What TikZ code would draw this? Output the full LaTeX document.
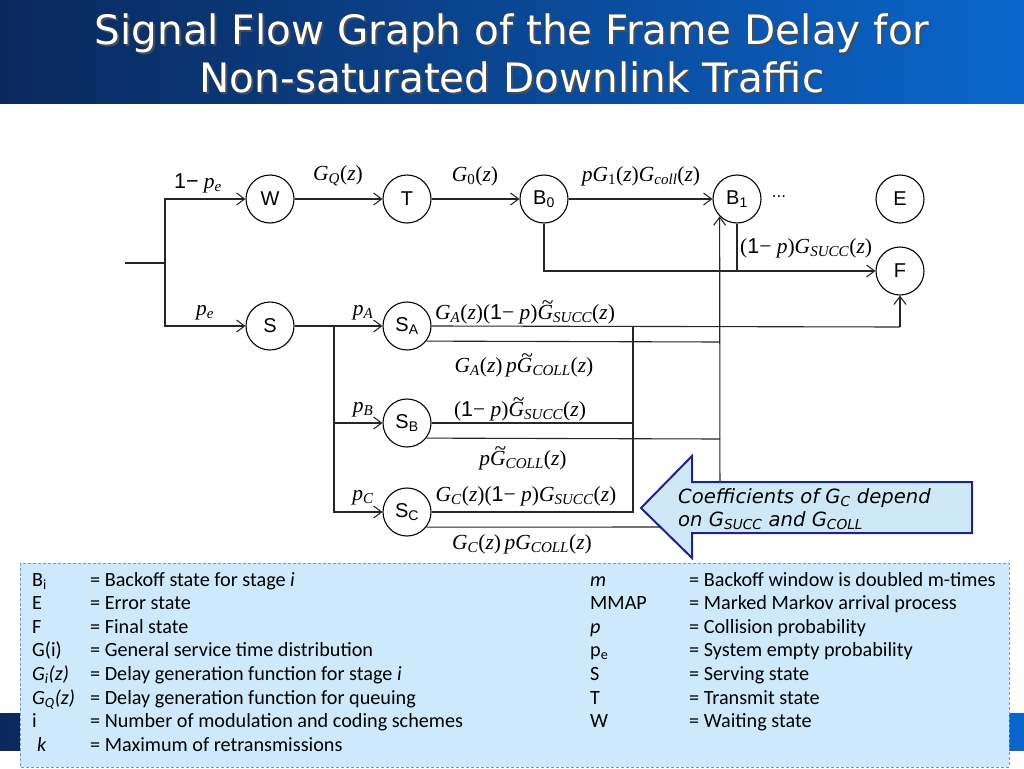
\documentclass[tikz,border=0pt]{standalone}
\usepackage{fontspec}
\setmainfont{Liberation Serif}
\newfontfamily\ars{Liberation Sans}
\newfontfamily\tms{Liberation Serif}
\newfontfamily\ttlfont{DejaVu Sans}
\newfontfamily\legfont{Carlito}
\usetikzlibrary{arrows.meta}
\newcommand\xmi[1]{\textit{#1}}
\newcommand\xsb[1]{\textsubscript{\textit{#1}}}
\newcommand\xone{{\ars 1}}
\newcommand\xtG{\makebox[0pt][l]{\kern0.2em\raisebox{0.47em}{\textasciitilde}}\textit{G}}
\definecolor{navy}{RGB}{10,40,92}
\definecolor{brblue}{RGB}{10,102,204}
\definecolor{legfill}{RGB}{205,233,251}
\definecolor{legdash}{RGB}{128,148,196}
\definecolor{callfill}{RGB}{207,232,248}
\definecolor{calldraw}{RGB}{28,36,140}
\tikzset{
  st/.style={circle, draw, line width=1.1pt, minimum size=48pt, inner sep=0pt, font=\fontsize{20}{20}\ars},
  ln/.style={line width=1.1pt, draw=black!85},
  arr/.style={ln, -{Straight Barb[length=8pt,width=12pt,line width=1.1pt]}},
  ml/.style={inner sep=0pt, font=\fontsize{21.5}{24}\tms},
  leg/.style={anchor=base west, inner sep=0pt, font=\legfont\fontsize{20.2}{24}\selectfont},
  ttl/.style={font=\ttlfont\fontsize{40.5}{44}\selectfont, inner sep=0pt},
  ctext/.style={anchor=base west, inner sep=0pt, font=\ttlfont\itshape\fontsize{19.6}{22}\selectfont}
}
\begin{document}
\begin{tikzpicture}[x=1pt,y=-1pt]
\useasboundingbox (0,0) rectangle (1024,768);
% title
\shade[left color=navy, right color=brblue] (0,0) rectangle (1024,103);
\node[ttl, text=black!70] (t1s) at (514,35) {Signal Flow Graph of the Frame Delay for};
\node[ttl, text=white] (t1) at (512,33) {Signal Flow Graph of the Frame Delay for};
\node[ttl, text=black!70] (t2s) at (514,79) {Non-saturated Downlink Traffic};
\node[ttl, text=white] (t2) at (512,77) {Non-saturated Downlink Traffic};
% bottom band
\shade[left color=navy, right color=brblue] (0,713) rectangle (1024,750);
% nodes
\node[st] (W) at (270,199) {W};
\node[st] (T) at (407,199) {T};
\node[st] (B0) at (544,199) {B\textsubscript{0}};
\node[st] (B1) at (737,199) {B\textsubscript{1}};
\node[st] (E) at (900,199) {E};
\node[st] (F) at (900,271) {F};
\node[st] (S) at (270,326) {S};
\node[st] (SA) at (407,326) {S\textsubscript{A}};
\node[st] (SB) at (407,423) {S\textsubscript{B}};
\node[st] (SC) at (407,512) {S\textsubscript{C}};
\node[inner sep=0pt, font=\fontsize{17}{17}\ars] (dots) at (779,197) {...};
% coordinates
\coordinate (in) at (125,263);
\coordinate (j) at (165,263);
\coordinate (br) at (334,326);
\coordinate (sA) at (633,327);
\coordinate (sB) at (633,423);
\coordinate (sC) at (633,512);
\coordinate (cA) at (720,342);
\coordinate (cB) at (720,439);
\coordinate (cC) at (720,527);
\coordinate (fS) at (900,327);
% connectors
\draw[ln] (in) -- (j);
\draw[arr] (j) |- (W.west);
\draw[arr] (j) |- (S.west);
\draw[arr] (W) -- (T);
\draw[arr] (T) -- (B0);
\draw[arr] (B0) -- (B1);
\draw[arr] (B0.south) |- (F.west);
\draw[ln] (B1.south) -- (B1.south |- F.west);
\draw[arr] (S) -- (SA);
\draw[arr] (br) |- (SB.west);
\draw[arr] (br) |- (SC.west);
\draw[ln] (SA.east) -- (fS);
\draw[arr] (fS) -- (F.south);
\draw[ln] (SB.east) -- (sB);
\draw[ln] (SC.east |- sC) -- (sC) -- (sA);
\draw[ln] (SA.-38.7) -- (cA);
\draw[ln] (SB.-38.7) -- (cB);
\draw[ln] (SC.-38.7) -- (cC);
\draw[arr] (cC) -- (B1.-135);
% labels
\node[ml] (l1) at (198,183) {{\ars 1−} \xmi{p}\xsb{e}};
\node[ml] (l2) at (205,313) {\xmi{p}\xsb{e}};
\node[ml] (l3) at (338,176) {\xmi{G}\xsb{Q}(\xmi{z})};
\node[ml] (l4) at (475,176) {\xmi{G}\textsubscript{0}(\xmi{z})};
\node[ml] (l5) at (641,176) {\xmi{pG}\textsubscript{1}(\xmi{z})\xmi{G}\xsb{coll}(\xmi{z})};
\node[ml, anchor=west] (l6) at (740,248) {(\xone− \xmi{p})\xmi{G}\xsb{SUCC}(\xmi{z})};
\node[ml] (lpa) at (363,313) {\xmi{p}\xsb{A}};
\node[ml] (lpb) at (363,410) {\xmi{p}\xsb{B}};
\node[ml] (lpc) at (363,498) {\xmi{p}\xsb{C}};
\node[ml] (la1) at (525,312) {\xmi{G}\xsb{A}(\xmi{z})(\xone− \xmi{p})\xtG\xsb{SUCC}(\xmi{z})};
\node[ml] (la2) at (524,365) {\xmi{G}\xsb{A}(\xmi{z})\,\xmi{p}\xtG\xsb{COLL}(\xmi{z})};
\node[ml] (lb1) at (520,409) {(\xone− \xmi{p})\xtG\xsb{SUCC}(\xmi{z})};
\node[ml] (lb2) at (523,458) {\xmi{p}\xtG\xsb{COLL}(\xmi{z})};
\node[ml] (lc1) at (526,496) {\xmi{G}\xsb{C}(\xmi{z})(\xone− \xmi{p})\xmi{G}\xsb{SUCC}(\xmi{z})};
\node[ml] (lc2) at (522,544) {\xmi{G}\xsb{C}(\xmi{z})\,\xmi{p}\xmi{G}\xsb{COLL}(\xmi{z})};
% callout
\draw[fill=callfill, draw=calldraw, line width=2pt, line join=miter]
  (641,508) -- (692,456) -- (692,482) -- (972,482) -- (972,533) -- (692,533) -- (692,558) -- cycle;
\node[ctext] (ct1) at (678,503) {Coefficients of G\textsubscript{C} depend};
\node[ctext] (ct2) at (678,526) {on G\textsubscript{SUCC} and G\textsubscript{COLL}};
% legend
\draw[fill=legfill, draw=legdash, line width=1pt, dash pattern=on 3pt off 2pt] (20,563) rectangle (1009,767);
\node[leg] (k1) at (32,586) {B\textsubscript{i}};
\node[leg] (k2) at (32,609.6) {E};
\node[leg] (k3) at (32,633.2) {F};
\node[leg] (k4) at (32,656.8) {G(i)};
\node[leg] (k5) at (32,680.4) {\textit{G\textsubscript{i}(z)}};
\node[leg] (k6) at (32,704) {\textit{G\textsubscript{Q}(z)}};
\node[leg] (k7) at (32,727.6) {i};
\node[leg] (k8) at (37,751.2) {\textit{k}};
\node[leg] (v1) at (90,586) {= Backoff state for stage \textit{i}};
\node[leg] (v2) at (90,609.6) {= Error state};
\node[leg] (v3) at (90,633.2) {= Final state};
\node[leg] (v4) at (90,656.8) {= General service time distribution};
\node[leg] (v5) at (90,680.4) {= Delay generation function for stage \textit{i}};
\node[leg] (v6) at (90,704) {= Delay generation function for queuing};
\node[leg] (v7) at (90,727.6) {= Number of modulation and coding schemes};
\node[leg] (v8) at (90,751.2) {= Maximum of retransmissions};
\node[leg] (r1) at (590,586) {\textit{m}};
\node[leg] (r2) at (590,609.6) {MMAP};
\node[leg] (r3) at (590,633.2) {\textit{p}};
\node[leg] (r4) at (590,656.8) {p\textsubscript{e}};
\node[leg] (r5) at (590,680.4) {S};
\node[leg] (r6) at (590,704) {T};
\node[leg] (r7) at (590,727.6) {W};
\node[leg] (w1) at (689,586) {= Backoff window is doubled m-times};
\node[leg] (w2) at (689,609.6) {= Marked Markov arrival process};
\node[leg] (w3) at (689,633.2) {= Collision probability};
\node[leg] (w4) at (689,656.8) {= System empty probability};
\node[leg] (w5) at (689,680.4) {= Serving state};
\node[leg] (w6) at (689,704) {= Transmit state};
\node[leg] (w7) at (689,727.6) {= Waiting state};
\end{tikzpicture}
\end{document}
